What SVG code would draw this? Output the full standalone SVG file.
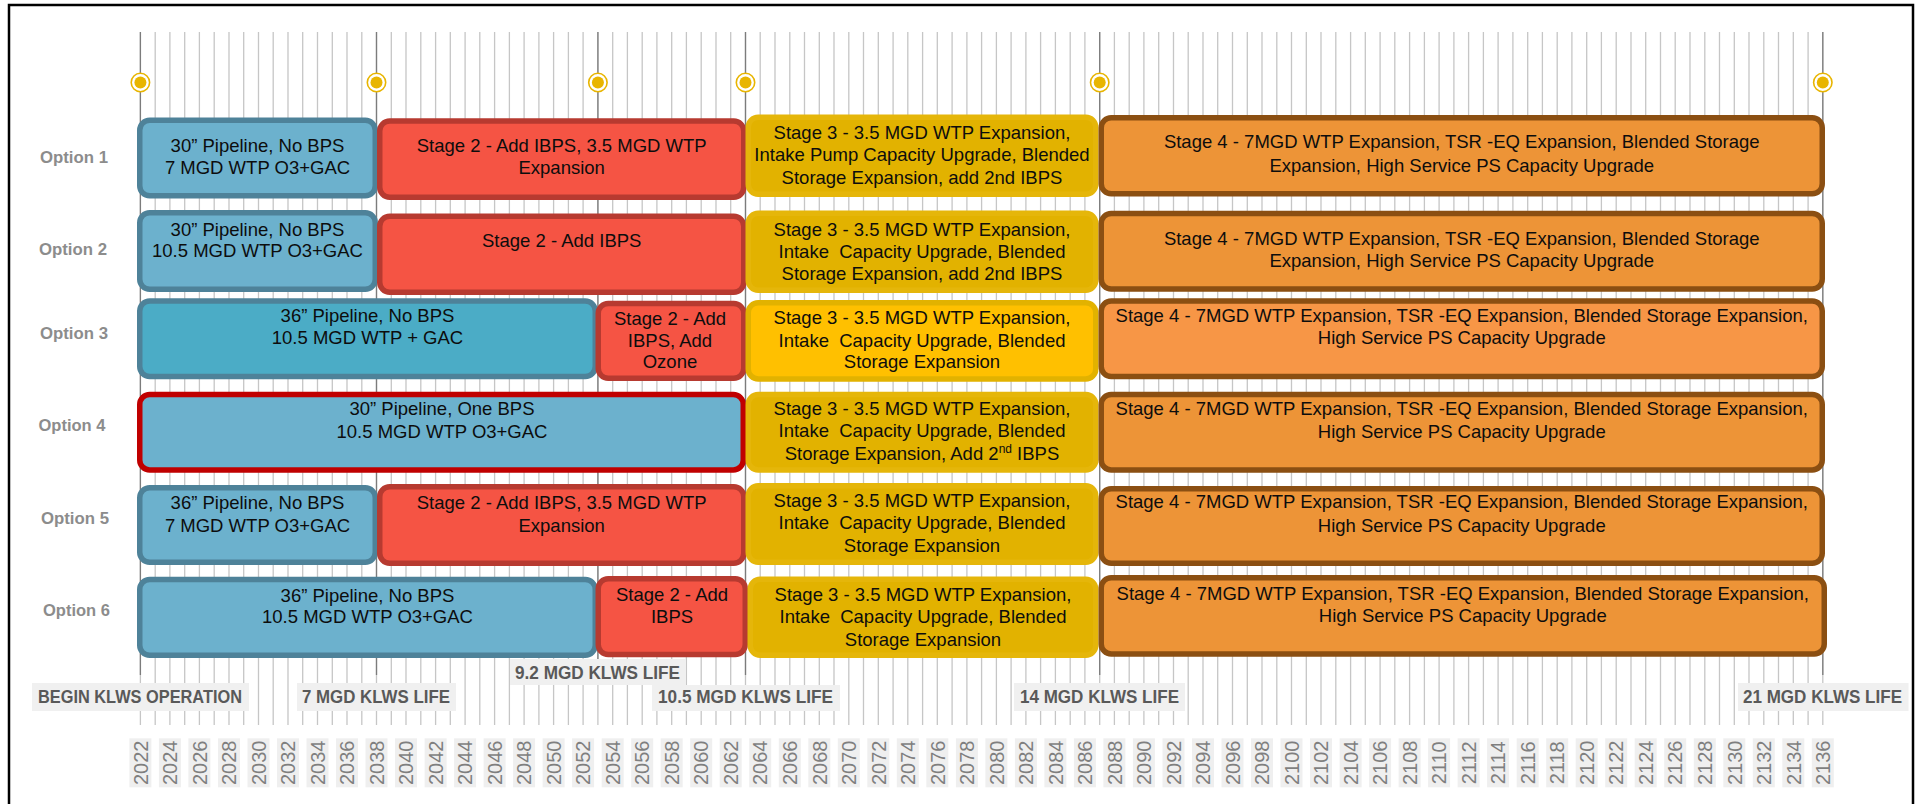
<svg xmlns="http://www.w3.org/2000/svg" width="1916" height="804" viewBox="0 0 1916 804">
<style>
.frame{fill:#fff;stroke:#000;stroke-width:2.5}
.grid{fill:none;stroke:#c6c6c6;stroke-width:1.3}
.mgrid{fill:none;stroke:#7c7c7c;stroke-width:1.3}
.dot .ring{fill:#fff;stroke:#e8b500;stroke-width:1.6}
.dot .core{fill:#e8b500}
.yr rect{fill:#efefef}
.yr text{font-family:"Liberation Sans",Arial,sans-serif;font-size:20px;fill:#7f7f7f;text-anchor:middle}
.ms rect{fill:#f0f0f0}
.ms text{font-family:"Liberation Sans",Arial,sans-serif;font-weight:bold;font-size:18px;fill:#595959}
.opt{font-family:"Liberation Sans",Arial,sans-serif;font-weight:bold;font-size:17px;fill:#8c8c8c;text-anchor:middle}
.node rect{stroke-width:5.5}
.node text{font-family:"Liberation Sans",Arial,sans-serif;font-size:18.5px;fill:#0d0d0d;text-anchor:middle}
.bl{fill:#6cb1cd;stroke:#4e8299}
.bl3{fill:#4bacc6;stroke:#4e8299}
.bl4{fill:#6cb1cd;stroke:#c00000}
.rd{fill:#f55444;stroke:#b73a30}
.ye{fill:#e2b200;stroke:#e5b60a}
.ye3{fill:#ffc000;stroke:#e2b200}
.or{fill:#ed9437;stroke:#8b4f12}
.or3{fill:#f79646;stroke:#8b4f12}
</style>
<rect class="frame" x="9" y="5" width="1904" height="830"/>
<g id="grid">
<path class="grid" d="M140.4 32V725M155.2 32V725M169.9 32V725M184.7 32V725M199.4 32V725M214.2 32V725M229 32V725M243.7 32V725M258.5 32V725M273.2 32V725M288 32V725M302.7 32V725M317.5 32V725M332.3 32V725M347 32V725M361.8 32V725M376.5 32V725M391.3 32V725M406 32V725M420.8 32V725M435.6 32V725M450.3 32V725M465.1 32V725M479.8 32V725M494.6 32V725M509.4 32V725M524.1 32V725M538.9 32V725M553.6 32V725M568.4 32V725M583.1 32V725M597.9 32V725M612.7 32V725M627.4 32V725M642.2 32V725M656.9 32V725M671.7 32V725M686.4 32V725M701.2 32V725M716 32V725M730.7 32V725M745.5 32V725M760.2 32V725M775 32V725M789.8 32V725M804.5 32V725M819.3 32V725M834 32V725M848.8 32V725M863.5 32V725M878.3 32V725M893.1 32V725M907.8 32V725M922.6 32V725M937.3 32V725M952.1 32V725M966.9 32V725M981.6 32V725M996.4 32V725M1011.1 32V725M1025.9 32V725M1040.6 32V725M1055.4 32V725M1070.2 32V725M1084.9 32V725M1099.7 32V725M1114.4 32V725M1129.2 32V725M1143.9 32V725M1158.7 32V725M1173.5 32V725M1188.2 32V725M1203 32V725M1217.7 32V725M1232.5 32V725M1247.3 32V725M1262 32V725M1276.8 32V725M1291.5 32V725M1306.3 32V725M1321 32V725M1335.8 32V725M1350.6 32V725M1365.3 32V725M1380.1 32V725M1394.8 32V725M1409.6 32V725M1424.4 32V725M1439.1 32V725M1453.9 32V725M1468.6 32V725M1483.4 32V725M1498.1 32V725M1512.9 32V725M1527.7 32V725M1542.4 32V725M1557.2 32V725M1571.9 32V725M1586.7 32V725M1601.4 32V725M1616.2 32V725M1631 32V725M1645.7 32V725M1660.5 32V725M1675.2 32V725M1690 32V725M1704.8 32V725M1719.5 32V725M1734.3 32V725M1749 32V725M1763.8 32V725M1778.5 32V725M1793.3 32V725M1808.1 32V725M1822.8 32V725"/>
<path class="mgrid" d="M140.4 32V675M376.5 32V675M597.9 32V675M745.5 32V675M1099.7 32V675M1822.8 32V675"/>
</g>
<g id="milestone-dots">
<g class="dot"><circle class="ring" cx="140.4" cy="82.5" r="9.2"/><circle class="core" cx="140.4" cy="82.5" r="6"/></g>
<g class="dot"><circle class="ring" cx="376.5" cy="82.5" r="9.2"/><circle class="core" cx="376.5" cy="82.5" r="6"/></g>
<g class="dot"><circle class="ring" cx="597.9" cy="82.5" r="9.2"/><circle class="core" cx="597.9" cy="82.5" r="6"/></g>
<g class="dot"><circle class="ring" cx="745.5" cy="82.5" r="9.2"/><circle class="core" cx="745.5" cy="82.5" r="6"/></g>
<g class="dot"><circle class="ring" cx="1099.7" cy="82.5" r="9.2"/><circle class="core" cx="1099.7" cy="82.5" r="6"/></g>
<g class="dot"><circle class="ring" cx="1822.8" cy="82.5" r="9.2"/><circle class="core" cx="1822.8" cy="82.5" r="6"/></g>
</g>
<g id="options">
<text class="opt" x="74" y="163.3" textLength="68" lengthAdjust="spacingAndGlyphs">Option 1</text>
<text class="opt" x="73" y="255" textLength="68" lengthAdjust="spacingAndGlyphs">Option 2</text>
<text class="opt" x="74" y="339.3" textLength="68" lengthAdjust="spacingAndGlyphs">Option 3</text>
<text class="opt" x="72" y="430.7" textLength="67" lengthAdjust="spacingAndGlyphs">Option 4</text>
<text class="opt" x="75" y="524" textLength="68" lengthAdjust="spacingAndGlyphs">Option 5</text>
<text class="opt" x="76.5" y="616" textLength="67" lengthAdjust="spacingAndGlyphs">Option 6</text>
</g>
<!-- Row 1 -->
<g id="opt1-stage1" class="node"><rect class="bl" x="139.75" y="120.25" width="235.5" height="75.5" rx="10"/><text x="257.5" y="151.7">30” Pipeline, No BPS</text><text x="257.5" y="174">7 MGD WTP O3+GAC</text></g>
<g id="opt1-stage2" class="node"><rect class="rd" x="379.75" y="121" width="364" height="76.25" rx="10"/><text x="561.7" y="151.7">Stage 2 - Add IBPS, 3.5 MGD WTP</text><text x="561.7" y="174">Expansion</text></g>
<g id="opt1-stage3" class="node"><rect class="ye" x="748.25" y="117.25" width="347.5" height="77" rx="10"/><text x="922" y="138.5">Stage 3 - 3.5 MGD WTP Expansion,</text><text x="922" y="161">Intake Pump Capacity Upgrade, Blended</text><text x="922" y="183.5">Storage Expansion, add 2nd IBPS</text></g>
<g id="opt1-stage4" class="node"><rect class="or" x="1101.25" y="117.75" width="721" height="76" rx="10"/><text x="1461.75" y="148">Stage 4 - 7MGD WTP Expansion, TSR -EQ Expansion, Blended Storage</text><text x="1461.75" y="171.5">Expansion, High Service PS Capacity Upgrade</text></g>
<!-- Row 2 -->
<g id="opt2-stage1" class="node"><rect class="bl" x="139.75" y="212.75" width="235.5" height="76.5" rx="10"/><text x="257.5" y="235.7">30” Pipeline, No BPS</text><text x="257.5" y="256.7">10.5 MGD WTP O3+GAC</text></g>
<g id="opt2-stage2" class="node"><rect class="rd" x="379.75" y="216.25" width="364" height="76" rx="10"/><text x="561.7" y="246.7">Stage 2 - Add IBPS</text></g>
<g id="opt2-stage3" class="node"><rect class="ye" x="748.25" y="213.25" width="347.5" height="77" rx="10"/><text x="922" y="235.5">Stage 3 - 3.5 MGD WTP Expansion,</text><text x="922" y="257.5" xml:space="preserve">Intake  Capacity Upgrade, Blended</text><text x="922" y="280">Storage Expansion, add 2nd IBPS</text></g>
<g id="opt2-stage4" class="node"><rect class="or" x="1101.25" y="213.5" width="721" height="75.5" rx="10"/><text x="1461.75" y="245">Stage 4 - 7MGD WTP Expansion, TSR -EQ Expansion, Blended Storage</text><text x="1461.75" y="266.7">Expansion, High Service PS Capacity Upgrade</text></g>
<!-- Row 3 -->
<g id="opt3-stage1" class="node"><rect class="bl3" x="139.75" y="301" width="455.5" height="75.5" rx="10"/><text x="367.5" y="321.7">36” Pipeline, No BPS</text><text x="367.5" y="344">10.5 MGD WTP + GAC</text></g>
<g id="opt3-stage2" class="node"><rect class="rd" x="598.25" y="303.45" width="145.5" height="74.8" rx="10"/><text x="670" y="325">Stage 2 - Add</text><text x="670" y="346.7">IBPS, Add</text><text x="670" y="368.3">Ozone</text></g>
<g id="opt3-stage3" class="node"><rect class="ye3" x="748.25" y="302.75" width="347.5" height="76.2" rx="10"/><text x="922" y="324.3">Stage 3 - 3.5 MGD WTP Expansion,</text><text x="922" y="346.7" xml:space="preserve">Intake  Capacity Upgrade, Blended</text><text x="922" y="368.3">Storage Expansion</text></g>
<g id="opt3-stage4" class="node"><rect class="or3" x="1101.25" y="301" width="721" height="75.5" rx="10"/><text x="1461.75" y="321.7">Stage 4 - 7MGD WTP Expansion, TSR -EQ Expansion, Blended Storage Expansion,</text><text x="1461.75" y="344">High Service PS Capacity Upgrade</text></g>
<!-- Row 4 -->
<g id="opt4-stage1" class="node"><rect class="bl4" x="139.75" y="394.45" width="603.5" height="75.5" rx="10"/><text x="442" y="415">30” Pipeline, One BPS</text><text x="442" y="438.3">10.5 MGD WTP O3+GAC</text></g>
<g id="opt4-stage3" class="node"><rect class="ye" x="748.25" y="394.45" width="347.5" height="75.5" rx="10"/><text x="922" y="415">Stage 3 - 3.5 MGD WTP Expansion,</text><text x="922" y="437.3" xml:space="preserve">Intake  Capacity Upgrade, Blended</text><text x="922" y="460">Storage Expansion, Add 2<tspan dy="-7" font-size="12">nd</tspan><tspan dy="7"> IBPS</tspan></text></g>
<g id="opt4-stage4" class="node"><rect class="or" x="1101.25" y="394.45" width="721" height="75.5" rx="10"/><text x="1461.75" y="415">Stage 4 - 7MGD WTP Expansion, TSR -EQ Expansion, Blended Storage Expansion,</text><text x="1461.75" y="438.3">High Service PS Capacity Upgrade</text></g>
<!-- Row 5 -->
<g id="opt5-stage1" class="node"><rect class="bl" x="139.75" y="487.75" width="235.5" height="74.5" rx="10"/><text x="257.5" y="509.3">36” Pipeline, No BPS</text><text x="257.5" y="531.7">7 MGD WTP O3+GAC</text></g>
<g id="opt5-stage2" class="node"><rect class="rd" x="379.75" y="486.75" width="364" height="76.5" rx="10"/><text x="561.7" y="509.3">Stage 2 - Add IBPS, 3.5 MGD WTP</text><text x="561.7" y="531.7">Expansion</text></g>
<g id="opt5-stage3" class="node"><rect class="ye" x="748.25" y="485.75" width="347.5" height="76.5" rx="10"/><text x="922" y="506.7">Stage 3 - 3.5 MGD WTP Expansion,</text><text x="922" y="529.3" xml:space="preserve">Intake  Capacity Upgrade, Blended</text><text x="922" y="551.7">Storage Expansion</text></g>
<g id="opt5-stage4" class="node"><rect class="or" x="1101.25" y="488.75" width="721" height="74.5" rx="10"/><text x="1461.75" y="508.3">Stage 4 - 7MGD WTP Expansion, TSR -EQ Expansion, Blended Storage Expansion,</text><text x="1461.75" y="531.7">High Service PS Capacity Upgrade</text></g>
<!-- Row 6 -->
<g id="opt6-stage1" class="node"><rect class="bl" x="139.75" y="579.45" width="455.5" height="75.8" rx="10"/><text x="367.5" y="601.7">36” Pipeline, No BPS</text><text x="367.5" y="623.3">10.5 MGD WTP O3+GAC</text></g>
<g id="opt6-stage2" class="node"><rect class="rd" x="598.25" y="578.75" width="147" height="75.8" rx="10"/><text x="672" y="600.7">Stage 2 - Add</text><text x="672" y="622.7">IBPS</text></g>
<g id="opt6-stage3" class="node"><rect class="ye" x="750.25" y="579.25" width="345.5" height="76" rx="10"/><text x="923" y="600.7">Stage 3 - 3.5 MGD WTP Expansion,</text><text x="923" y="622.7" xml:space="preserve">Intake  Capacity Upgrade, Blended</text><text x="923" y="646">Storage Expansion</text></g>
<g id="opt6-stage4" class="node"><rect class="or" x="1101.25" y="577.75" width="723" height="76.2" rx="10"/><text x="1462.75" y="600">Stage 4 - 7MGD WTP Expansion, TSR -EQ Expansion, Blended Storage Expansion,</text><text x="1462.75" y="621.7">High Service PS Capacity Upgrade</text></g>
<!-- Milestone labels -->
<g id="ms-begin" class="ms"><rect x="32" y="683" width="217" height="28"/><text x="38" y="703" textLength="204" lengthAdjust="spacingAndGlyphs">BEGIN KLWS OPERATION</text></g>
<g id="ms-7" class="ms"><rect x="297" y="683" width="159" height="28"/><text x="302" y="703" textLength="148" lengthAdjust="spacingAndGlyphs">7 MGD KLWS LIFE</text></g>
<g id="ms-9-2" class="ms"><rect x="510" y="659" width="176" height="26"/><text x="515" y="678.5" textLength="165" lengthAdjust="spacingAndGlyphs">9.2 MGD KLWS LIFE</text></g>
<g id="ms-10-5" class="ms"><rect x="652" y="685" width="188" height="26"/><text x="658" y="703" textLength="175" lengthAdjust="spacingAndGlyphs">10.5 MGD KLWS LIFE</text></g>
<g id="ms-14" class="ms"><rect x="1014" y="683" width="171" height="28"/><text x="1020" y="703" textLength="159" lengthAdjust="spacingAndGlyphs">14 MGD KLWS LIFE</text></g>
<g id="ms-21" class="ms"><rect x="1738" y="683" width="170.5" height="28"/><text x="1743" y="703" textLength="159" lengthAdjust="spacingAndGlyphs">21 MGD KLWS LIFE</text></g>
<!-- Year axis -->
<g id="years">
<g class="yr" transform="translate(140.4,762.8)"><rect x="-11" y="-24.5" width="22" height="49"/><text transform="rotate(-90)" y="7.2">2022</text></g>
<g class="yr" transform="translate(169.9,762.8)"><rect x="-11" y="-24.5" width="22" height="49"/><text transform="rotate(-90)" y="7.2">2024</text></g>
<g class="yr" transform="translate(199.4,762.8)"><rect x="-11" y="-24.5" width="22" height="49"/><text transform="rotate(-90)" y="7.2">2026</text></g>
<g class="yr" transform="translate(229,762.8)"><rect x="-11" y="-24.5" width="22" height="49"/><text transform="rotate(-90)" y="7.2">2028</text></g>
<g class="yr" transform="translate(258.5,762.8)"><rect x="-11" y="-24.5" width="22" height="49"/><text transform="rotate(-90)" y="7.2">2030</text></g>
<g class="yr" transform="translate(288,762.8)"><rect x="-11" y="-24.5" width="22" height="49"/><text transform="rotate(-90)" y="7.2">2032</text></g>
<g class="yr" transform="translate(317.5,762.8)"><rect x="-11" y="-24.5" width="22" height="49"/><text transform="rotate(-90)" y="7.2">2034</text></g>
<g class="yr" transform="translate(347,762.8)"><rect x="-11" y="-24.5" width="22" height="49"/><text transform="rotate(-90)" y="7.2">2036</text></g>
<g class="yr" transform="translate(376.5,762.8)"><rect x="-11" y="-24.5" width="22" height="49"/><text transform="rotate(-90)" y="7.2">2038</text></g>
<g class="yr" transform="translate(406,762.8)"><rect x="-11" y="-24.5" width="22" height="49"/><text transform="rotate(-90)" y="7.2">2040</text></g>
<g class="yr" transform="translate(435.6,762.8)"><rect x="-11" y="-24.5" width="22" height="49"/><text transform="rotate(-90)" y="7.2">2042</text></g>
<g class="yr" transform="translate(465.1,762.8)"><rect x="-11" y="-24.5" width="22" height="49"/><text transform="rotate(-90)" y="7.2">2044</text></g>
<g class="yr" transform="translate(494.6,762.8)"><rect x="-11" y="-24.5" width="22" height="49"/><text transform="rotate(-90)" y="7.2">2046</text></g>
<g class="yr" transform="translate(524.1,762.8)"><rect x="-11" y="-24.5" width="22" height="49"/><text transform="rotate(-90)" y="7.2">2048</text></g>
<g class="yr" transform="translate(553.6,762.8)"><rect x="-11" y="-24.5" width="22" height="49"/><text transform="rotate(-90)" y="7.2">2050</text></g>
<g class="yr" transform="translate(583.1,762.8)"><rect x="-11" y="-24.5" width="22" height="49"/><text transform="rotate(-90)" y="7.2">2052</text></g>
<g class="yr" transform="translate(612.7,762.8)"><rect x="-11" y="-24.5" width="22" height="49"/><text transform="rotate(-90)" y="7.2">2054</text></g>
<g class="yr" transform="translate(642.2,762.8)"><rect x="-11" y="-24.5" width="22" height="49"/><text transform="rotate(-90)" y="7.2">2056</text></g>
<g class="yr" transform="translate(671.7,762.8)"><rect x="-11" y="-24.5" width="22" height="49"/><text transform="rotate(-90)" y="7.2">2058</text></g>
<g class="yr" transform="translate(701.2,762.8)"><rect x="-11" y="-24.5" width="22" height="49"/><text transform="rotate(-90)" y="7.2">2060</text></g>
<g class="yr" transform="translate(730.7,762.8)"><rect x="-11" y="-24.5" width="22" height="49"/><text transform="rotate(-90)" y="7.2">2062</text></g>
<g class="yr" transform="translate(760.2,762.8)"><rect x="-11" y="-24.5" width="22" height="49"/><text transform="rotate(-90)" y="7.2">2064</text></g>
<g class="yr" transform="translate(789.8,762.8)"><rect x="-11" y="-24.5" width="22" height="49"/><text transform="rotate(-90)" y="7.2">2066</text></g>
<g class="yr" transform="translate(819.3,762.8)"><rect x="-11" y="-24.5" width="22" height="49"/><text transform="rotate(-90)" y="7.2">2068</text></g>
<g class="yr" transform="translate(848.8,762.8)"><rect x="-11" y="-24.5" width="22" height="49"/><text transform="rotate(-90)" y="7.2">2070</text></g>
<g class="yr" transform="translate(878.3,762.8)"><rect x="-11" y="-24.5" width="22" height="49"/><text transform="rotate(-90)" y="7.2">2072</text></g>
<g class="yr" transform="translate(907.8,762.8)"><rect x="-11" y="-24.5" width="22" height="49"/><text transform="rotate(-90)" y="7.2">2074</text></g>
<g class="yr" transform="translate(937.3,762.8)"><rect x="-11" y="-24.5" width="22" height="49"/><text transform="rotate(-90)" y="7.2">2076</text></g>
<g class="yr" transform="translate(966.9,762.8)"><rect x="-11" y="-24.5" width="22" height="49"/><text transform="rotate(-90)" y="7.2">2078</text></g>
<g class="yr" transform="translate(996.4,762.8)"><rect x="-11" y="-24.5" width="22" height="49"/><text transform="rotate(-90)" y="7.2">2080</text></g>
<g class="yr" transform="translate(1025.9,762.8)"><rect x="-11" y="-24.5" width="22" height="49"/><text transform="rotate(-90)" y="7.2">2082</text></g>
<g class="yr" transform="translate(1055.4,762.8)"><rect x="-11" y="-24.5" width="22" height="49"/><text transform="rotate(-90)" y="7.2">2084</text></g>
<g class="yr" transform="translate(1084.9,762.8)"><rect x="-11" y="-24.5" width="22" height="49"/><text transform="rotate(-90)" y="7.2">2086</text></g>
<g class="yr" transform="translate(1114.4,762.8)"><rect x="-11" y="-24.5" width="22" height="49"/><text transform="rotate(-90)" y="7.2">2088</text></g>
<g class="yr" transform="translate(1143.9,762.8)"><rect x="-11" y="-24.5" width="22" height="49"/><text transform="rotate(-90)" y="7.2">2090</text></g>
<g class="yr" transform="translate(1173.5,762.8)"><rect x="-11" y="-24.5" width="22" height="49"/><text transform="rotate(-90)" y="7.2">2092</text></g>
<g class="yr" transform="translate(1203,762.8)"><rect x="-11" y="-24.5" width="22" height="49"/><text transform="rotate(-90)" y="7.2">2094</text></g>
<g class="yr" transform="translate(1232.5,762.8)"><rect x="-11" y="-24.5" width="22" height="49"/><text transform="rotate(-90)" y="7.2">2096</text></g>
<g class="yr" transform="translate(1262,762.8)"><rect x="-11" y="-24.5" width="22" height="49"/><text transform="rotate(-90)" y="7.2">2098</text></g>
<g class="yr" transform="translate(1291.5,762.8)"><rect x="-11" y="-24.5" width="22" height="49"/><text transform="rotate(-90)" y="7.2">2100</text></g>
<g class="yr" transform="translate(1321,762.8)"><rect x="-11" y="-24.5" width="22" height="49"/><text transform="rotate(-90)" y="7.2">2102</text></g>
<g class="yr" transform="translate(1350.6,762.8)"><rect x="-11" y="-24.5" width="22" height="49"/><text transform="rotate(-90)" y="7.2">2104</text></g>
<g class="yr" transform="translate(1380.1,762.8)"><rect x="-11" y="-24.5" width="22" height="49"/><text transform="rotate(-90)" y="7.2">2106</text></g>
<g class="yr" transform="translate(1409.6,762.8)"><rect x="-11" y="-24.5" width="22" height="49"/><text transform="rotate(-90)" y="7.2">2108</text></g>
<g class="yr" transform="translate(1439.1,762.8)"><rect x="-11" y="-24.5" width="22" height="49"/><text transform="rotate(-90)" y="7.2">2110</text></g>
<g class="yr" transform="translate(1468.6,762.8)"><rect x="-11" y="-24.5" width="22" height="49"/><text transform="rotate(-90)" y="7.2">2112</text></g>
<g class="yr" transform="translate(1498.1,762.8)"><rect x="-11" y="-24.5" width="22" height="49"/><text transform="rotate(-90)" y="7.2">2114</text></g>
<g class="yr" transform="translate(1527.7,762.8)"><rect x="-11" y="-24.5" width="22" height="49"/><text transform="rotate(-90)" y="7.2">2116</text></g>
<g class="yr" transform="translate(1557.2,762.8)"><rect x="-11" y="-24.5" width="22" height="49"/><text transform="rotate(-90)" y="7.2">2118</text></g>
<g class="yr" transform="translate(1586.7,762.8)"><rect x="-11" y="-24.5" width="22" height="49"/><text transform="rotate(-90)" y="7.2">2120</text></g>
<g class="yr" transform="translate(1616.2,762.8)"><rect x="-11" y="-24.5" width="22" height="49"/><text transform="rotate(-90)" y="7.2">2122</text></g>
<g class="yr" transform="translate(1645.7,762.8)"><rect x="-11" y="-24.5" width="22" height="49"/><text transform="rotate(-90)" y="7.2">2124</text></g>
<g class="yr" transform="translate(1675.2,762.8)"><rect x="-11" y="-24.5" width="22" height="49"/><text transform="rotate(-90)" y="7.2">2126</text></g>
<g class="yr" transform="translate(1704.8,762.8)"><rect x="-11" y="-24.5" width="22" height="49"/><text transform="rotate(-90)" y="7.2">2128</text></g>
<g class="yr" transform="translate(1734.3,762.8)"><rect x="-11" y="-24.5" width="22" height="49"/><text transform="rotate(-90)" y="7.2">2130</text></g>
<g class="yr" transform="translate(1763.8,762.8)"><rect x="-11" y="-24.5" width="22" height="49"/><text transform="rotate(-90)" y="7.2">2132</text></g>
<g class="yr" transform="translate(1793.3,762.8)"><rect x="-11" y="-24.5" width="22" height="49"/><text transform="rotate(-90)" y="7.2">2134</text></g>
<g class="yr" transform="translate(1822.8,762.8)"><rect x="-11" y="-24.5" width="22" height="49"/><text transform="rotate(-90)" y="7.2">2136</text></g>
</g>
</svg>
